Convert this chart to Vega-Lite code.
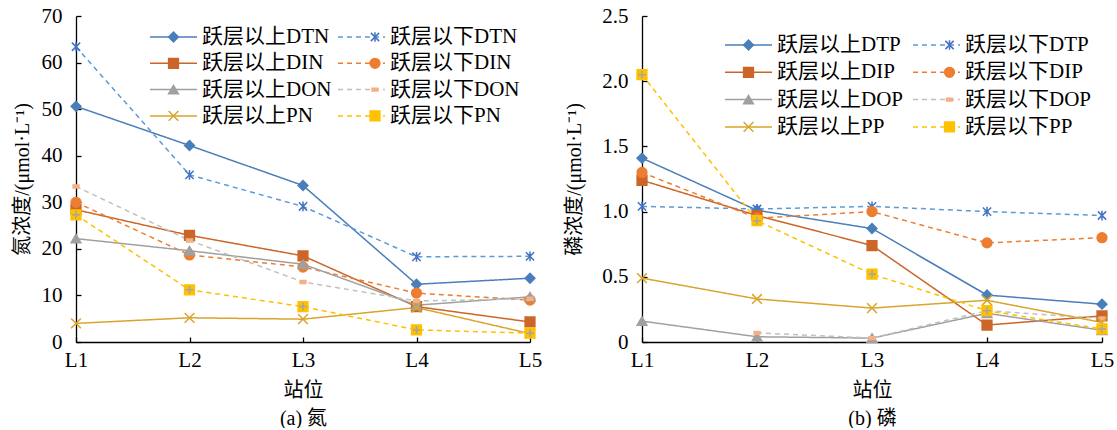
{
  "$schema": "https://vega.github.io/schema/vega-lite/v6.json",
  "background": "white",
  "padding": {"left": 12, "top": 5, "right": 0, "bottom": 0},
  "spacing": 22,
  "datasets": {
    "n": [
      {"station": "L1", "series": "跃层以上DTN", "value": 50.6},
      {"station": "L2", "series": "跃层以上DTN", "value": 42.2},
      {"station": "L3", "series": "跃层以上DTN", "value": 33.6},
      {"station": "L4", "series": "跃层以上DTN", "value": 12.4},
      {"station": "L5", "series": "跃层以上DTN", "value": 13.7},
      {"station": "L1", "series": "跃层以下DTN", "value": 63.4},
      {"station": "L2", "series": "跃层以下DTN", "value": 35.9},
      {"station": "L3", "series": "跃层以下DTN", "value": 29.1},
      {"station": "L4", "series": "跃层以下DTN", "value": 18.3},
      {"station": "L5", "series": "跃层以下DTN", "value": 18.4},
      {"station": "L1", "series": "跃层以上DIN", "value": 28.4},
      {"station": "L2", "series": "跃层以上DIN", "value": 22.9},
      {"station": "L3", "series": "跃层以上DIN", "value": 18.5},
      {"station": "L4", "series": "跃层以上DIN", "value": 7.6},
      {"station": "L5", "series": "跃层以上DIN", "value": 4.3},
      {"station": "L1", "series": "跃层以下DIN", "value": 30.0},
      {"station": "L2", "series": "跃层以下DIN", "value": 18.7},
      {"station": "L3", "series": "跃层以下DIN", "value": 16.1},
      {"station": "L4", "series": "跃层以下DIN", "value": 10.5},
      {"station": "L5", "series": "跃层以下DIN", "value": 9.0},
      {"station": "L1", "series": "跃层以上DON", "value": 22.2},
      {"station": "L2", "series": "跃层以上DON", "value": 19.6},
      {"station": "L3", "series": "跃层以上DON", "value": 16.7},
      {"station": "L4", "series": "跃层以上DON", "value": 7.9},
      {"station": "L5", "series": "跃层以上DON", "value": 9.7},
      {"station": "L1", "series": "跃层以下DON", "value": 33.4},
      {"station": "L2", "series": "跃层以下DON", "value": 21.8},
      {"station": "L3", "series": "跃层以下DON", "value": 12.9},
      {"station": "L4", "series": "跃层以下DON", "value": 8.8},
      {"station": "L5", "series": "跃层以下DON", "value": 9.3},
      {"station": "L1", "series": "跃层以上PN", "value": 4.0},
      {"station": "L2", "series": "跃层以上PN", "value": 5.2},
      {"station": "L3", "series": "跃层以上PN", "value": 4.9},
      {"station": "L4", "series": "跃层以上PN", "value": 7.4},
      {"station": "L5", "series": "跃层以上PN", "value": 1.8},
      {"station": "L1", "series": "跃层以下PN", "value": 27.3},
      {"station": "L2", "series": "跃层以下PN", "value": 11.2},
      {"station": "L3", "series": "跃层以下PN", "value": 7.6},
      {"station": "L4", "series": "跃层以下PN", "value": 2.6},
      {"station": "L5", "series": "跃层以下PN", "value": 1.9}
    ],
    "p": [
      {"station": "L1", "series": "跃层以上DTP", "value": 1.41},
      {"station": "L2", "series": "跃层以上DTP", "value": 1.01},
      {"station": "L3", "series": "跃层以上DTP", "value": 0.87},
      {"station": "L4", "series": "跃层以上DTP", "value": 0.36},
      {"station": "L5", "series": "跃层以上DTP", "value": 0.29},
      {"station": "L1", "series": "跃层以下DTP", "value": 1.04},
      {"station": "L2", "series": "跃层以下DTP", "value": 1.02},
      {"station": "L3", "series": "跃层以下DTP", "value": 1.04},
      {"station": "L4", "series": "跃层以下DTP", "value": 1.0},
      {"station": "L5", "series": "跃层以下DTP", "value": 0.97},
      {"station": "L1", "series": "跃层以上DIP", "value": 1.24},
      {"station": "L2", "series": "跃层以上DIP", "value": 0.97},
      {"station": "L3", "series": "跃层以上DIP", "value": 0.74},
      {"station": "L4", "series": "跃层以上DIP", "value": 0.13},
      {"station": "L5", "series": "跃层以上DIP", "value": 0.2},
      {"station": "L1", "series": "跃层以下DIP", "value": 1.3},
      {"station": "L2", "series": "跃层以下DIP", "value": 0.95},
      {"station": "L3", "series": "跃层以下DIP", "value": 1.0},
      {"station": "L4", "series": "跃层以下DIP", "value": 0.76},
      {"station": "L5", "series": "跃层以下DIP", "value": 0.8},
      {"station": "L1", "series": "跃层以上DOP", "value": 0.16},
      {"station": "L2", "series": "跃层以上DOP", "value": 0.04},
      {"station": "L3", "series": "跃层以上DOP", "value": 0.03},
      {"station": "L4", "series": "跃层以上DOP", "value": 0.22},
      {"station": "L5", "series": "跃层以上DOP", "value": 0.09},
      {"station": "L2", "series": "跃层以下DOP", "value": 0.07},
      {"station": "L3", "series": "跃层以下DOP", "value": 0.03},
      {"station": "L4", "series": "跃层以下DOP", "value": 0.24},
      {"station": "L5", "series": "跃层以下DOP", "value": 0.18},
      {"station": "L1", "series": "跃层以上PP", "value": 0.49},
      {"station": "L2", "series": "跃层以上PP", "value": 0.33},
      {"station": "L3", "series": "跃层以上PP", "value": 0.26},
      {"station": "L4", "series": "跃层以上PP", "value": 0.32},
      {"station": "L5", "series": "跃层以上PP", "value": 0.15},
      {"station": "L1", "series": "跃层以下PP", "value": 2.05},
      {"station": "L2", "series": "跃层以下PP", "value": 0.93},
      {"station": "L3", "series": "跃层以下PP", "value": 0.52},
      {"station": "L4", "series": "跃层以下PP", "value": 0.24},
      {"station": "L5", "series": "跃层以下PP", "value": 0.1}
    ]
  },
  "resolve": {
    "scale": {"color": "independent", "fill": "independent", "stroke": "independent", "shape": "independent", "strokeDash": "independent"},
    "legend": {"color": "independent", "fill": "independent", "stroke": "independent", "shape": "independent", "strokeDash": "independent"}
  },
  "hconcat": [
    {
      "width": 454,
      "height": 326,
      "data": {"name": "n"},
      "encoding": {
        "x": {"field": "station", "type": "ordinal", "scale": {"type": "point", "padding": 0},
          "axis": {"title": ["站位", "(a) 氮"], "labelAngle": 0, "titleLineHeight": 28, "titlePadding": 10, "labelPadding": 12}},
        "y": {"field": "value", "type": "quantitative", "scale": {"domain": [0, 70]},
          "axis": {"title": "氮浓度/(μmol·L⁻¹)", "values": [0, 10, 20, 30, 40, 50, 60, 70], "labelPadding": 19, "titlePadding": 9}}
      },
      "layer": [
        {
          "mark": {"type": "line", "strokeWidth": 1.5},
          "encoding": {
            "color": {"field": "series", "type": "nominal",
              "scale": {"domain": ["跃层以上DTN", "跃层以下DTN", "跃层以上DIN", "跃层以下DIN", "跃层以上DON", "跃层以下DON", "跃层以上PN", "跃层以下PN"], "range": ["#4a7ebb", "#5b9bd5", "#cc6528", "#ed7d31", "#a0a0a0", "#c0c0c0", "#d9a42c", "#ffc000"]},
              "legend": {"orient": "none", "legendX": 73, "legendY": 9, "direction": "horizontal", "columns": 2, "symbolType": "stroke", "symbolSize": 2209, "symbolStrokeWidth": 1.5, "labelFontSize": 21, "labelOffset": 4, "columnPadding": 5, "rowPadding": 2.3, "clipHeight": 24, "title": null, "padding": 0, "labelLimit": 0}},
            "strokeDash": {"field": "series", "type": "nominal",
              "scale": {"domain": ["跃层以上DTN", "跃层以下DTN", "跃层以上DIN", "跃层以下DIN", "跃层以上DON", "跃层以下DON", "跃层以上PN", "跃层以下PN"], "range": [[1, 0], [5, 4], [1, 0], [5, 4], [1, 0], [5, 4], [1, 0], [5, 4]]},
              "legend": {"orient": "none", "legendX": 73, "legendY": 9, "direction": "horizontal", "columns": 2, "symbolType": "stroke", "symbolSize": 2209, "symbolStrokeWidth": 1.5, "labelFontSize": 21, "labelOffset": 4, "columnPadding": 5, "rowPadding": 2.3, "clipHeight": 24, "title": null, "padding": 0, "labelLimit": 0}}
          }
        },
        {
          "transform": [{"filter": "datum.value >= 0"}],
          "mark": {"type": "point", "filled": true, "opacity": 1, "strokeWidth": 1.5, "size": 95},
          "encoding": {
            "fill": {"field": "series", "type": "nominal",
              "scale": {"domain": ["跃层以上DTN", "跃层以下DTN", "跃层以上DIN", "跃层以下DIN", "跃层以上DON", "跃层以下DON", "跃层以上PN", "跃层以下PN", "跃层以下PN"], "range": ["#4a7ebb", "transparent", "#cc6528", "#ed7d31", "#a0a0a0", "#f4b183", "transparent", "#ffc000"]},
              "legend": {"orient": "none", "legendX": 73, "legendY": 9, "direction": "horizontal", "columns": 2, "symbolSize": 95, "symbolStrokeWidth": 1.5, "symbolFillColor": "transparent", "symbolStrokeColor": "transparent", "symbolOffset": 14, "labelFontSize": 21, "labelExpr": "''", "labelOffset": 32, "columnPadding": 134.5, "rowPadding": 2.3, "clipHeight": 24, "title": null, "padding": 0, "labelLimit": 0}},
            "stroke": {"field": "series", "type": "nominal",
              "scale": {"domain": ["跃层以上DTN", "跃层以下DTN", "跃层以上DIN", "跃层以下DIN", "跃层以上DON", "跃层以下DON", "跃层以上PN", "跃层以下PN", "跃层以下PN"], "range": ["#4a7ebb", "#4472c4", "#cc6528", "#ed7d31", "#a0a0a0", "#f4b183", "#d9a42c", "#ffc000"]},
              "legend": {"orient": "none", "legendX": 73, "legendY": 9, "direction": "horizontal", "columns": 2, "symbolSize": 95, "symbolStrokeWidth": 1.5, "symbolFillColor": "transparent", "symbolStrokeColor": "transparent", "symbolOffset": 14, "labelFontSize": 21, "labelExpr": "''", "labelOffset": 32, "columnPadding": 134.5, "rowPadding": 2.3, "clipHeight": 24, "title": null, "padding": 0, "labelLimit": 0}},
            "shape": {"field": "series", "type": "nominal",
              "scale": {"domain": ["跃层以上DTN", "跃层以下DTN", "跃层以上DIN", "跃层以下DIN", "跃层以上DON", "跃层以下DON", "跃层以上PN", "跃层以下PN", "跃层以下PN"], "range": ["diamond", "M-0.85,-0.85L0.85,0.85M-0.85,0.85L0.85,-0.85M0,-1V1", "square", "circle", "triangle-up", "M-0.6,-0.3H0.6V0.3H-0.6Z", "M-1,-1L1,1M-1,1L1,-1", "square"]},
              "legend": {"orient": "none", "legendX": 73, "legendY": 9, "direction": "horizontal", "columns": 2, "symbolSize": 95, "symbolStrokeWidth": 1.5, "symbolFillColor": "transparent", "symbolStrokeColor": "transparent", "symbolOffset": 14, "labelFontSize": 21, "labelExpr": "''", "labelOffset": 32, "columnPadding": 134.5, "rowPadding": 2.3, "clipHeight": 24, "title": null, "padding": 0, "labelLimit": 0}}
          }
        },
        {
          "transform": [{"filter": "datum.series == '跃层以下PN'"}],
          "mark": {"type": "point", "shape": "M-0.8,0H0.8M0,-0.8V0.8", "filled": false, "stroke": "#a5a5a5", "strokeWidth": 1.5, "size": 95, "opacity": 1}
        }
      ]
    },
    {
      "width": 460,
      "height": 326,
      "data": {"name": "p"},
      "encoding": {
        "x": {"field": "station", "type": "ordinal", "scale": {"type": "point", "padding": 0},
          "axis": {"title": ["站位", "(b) 磷"], "labelAngle": 0, "titleLineHeight": 28, "titlePadding": 10, "labelPadding": 12}},
        "y": {"field": "value", "type": "quantitative", "scale": {"domain": [0, 2.5]},
          "axis": {"title": "磷浓度/(μmol·L⁻¹)", "values": [0, 0.5, 1, 1.5, 2, 2.5], "labelExpr": "datum.value == 0 ? '0' : format(datum.value, '.1f')", "labelPadding": 19, "titlePadding": 17}}
      },
      "layer": [
        {
          "mark": {"type": "line", "strokeWidth": 1.5},
          "encoding": {
            "color": {"field": "series", "type": "nominal",
              "scale": {"domain": ["跃层以上DTP", "跃层以下DTP", "跃层以上DIP", "跃层以下DIP", "跃层以上DOP", "跃层以下DOP", "跃层以上PP", "跃层以下PP"], "range": ["#4a7ebb", "#5b9bd5", "#cc6528", "#ed7d31", "#a0a0a0", "#c0c0c0", "#d9a42c", "#ffc000"]},
              "legend": {"orient": "none", "legendX": 82, "legendY": 17, "direction": "horizontal", "columns": 2, "symbolType": "stroke", "symbolSize": 2209, "symbolStrokeWidth": 1.5, "labelFontSize": 21, "labelOffset": 4, "columnPadding": 8, "rowPadding": 3.3, "clipHeight": 24, "title": null, "padding": 0, "labelLimit": 0}},
            "strokeDash": {"field": "series", "type": "nominal",
              "scale": {"domain": ["跃层以上DTP", "跃层以下DTP", "跃层以上DIP", "跃层以下DIP", "跃层以上DOP", "跃层以下DOP", "跃层以上PP", "跃层以下PP"], "range": [[1, 0], [5, 4], [1, 0], [5, 4], [1, 0], [5, 4], [1, 0], [5, 4]]},
              "legend": {"orient": "none", "legendX": 82, "legendY": 17, "direction": "horizontal", "columns": 2, "symbolType": "stroke", "symbolSize": 2209, "symbolStrokeWidth": 1.5, "labelFontSize": 21, "labelOffset": 4, "columnPadding": 8, "rowPadding": 3.3, "clipHeight": 24, "title": null, "padding": 0, "labelLimit": 0}}
          }
        },
        {
          "transform": [{"filter": "datum.value >= 0"}],
          "mark": {"type": "point", "filled": true, "opacity": 1, "strokeWidth": 1.5, "size": 95},
          "encoding": {
            "fill": {"field": "series", "type": "nominal",
              "scale": {"domain": ["跃层以上DTP", "跃层以下DTP", "跃层以上DIP", "跃层以下DIP", "跃层以上DOP", "跃层以下DOP", "跃层以上PP", "跃层以下PP", "跃层以下PP"], "range": ["#4a7ebb", "transparent", "#cc6528", "#ed7d31", "#a0a0a0", "#f4b183", "transparent", "#ffc000"]},
              "legend": {"orient": "none", "legendX": 82, "legendY": 17, "direction": "horizontal", "columns": 2, "symbolSize": 95, "symbolStrokeWidth": 1.5, "symbolFillColor": "transparent", "symbolStrokeColor": "transparent", "symbolOffset": 14, "labelFontSize": 21, "labelExpr": "''", "labelOffset": 32, "columnPadding": 134, "rowPadding": 3.3, "clipHeight": 24, "title": null, "padding": 0, "labelLimit": 0}},
            "stroke": {"field": "series", "type": "nominal",
              "scale": {"domain": ["跃层以上DTP", "跃层以下DTP", "跃层以上DIP", "跃层以下DIP", "跃层以上DOP", "跃层以下DOP", "跃层以上PP", "跃层以下PP", "跃层以下PP"], "range": ["#4a7ebb", "#4472c4", "#cc6528", "#ed7d31", "#a0a0a0", "#f4b183", "#d9a42c", "#ffc000"]},
              "legend": {"orient": "none", "legendX": 82, "legendY": 17, "direction": "horizontal", "columns": 2, "symbolSize": 95, "symbolStrokeWidth": 1.5, "symbolFillColor": "transparent", "symbolStrokeColor": "transparent", "symbolOffset": 14, "labelFontSize": 21, "labelExpr": "''", "labelOffset": 32, "columnPadding": 134, "rowPadding": 3.3, "clipHeight": 24, "title": null, "padding": 0, "labelLimit": 0}},
            "shape": {"field": "series", "type": "nominal",
              "scale": {"domain": ["跃层以上DTP", "跃层以下DTP", "跃层以上DIP", "跃层以下DIP", "跃层以上DOP", "跃层以下DOP", "跃层以上PP", "跃层以下PP", "跃层以下PP"], "range": ["diamond", "M-0.85,-0.85L0.85,0.85M-0.85,0.85L0.85,-0.85M0,-1V1", "square", "circle", "triangle-up", "M-0.6,-0.3H0.6V0.3H-0.6Z", "M-1,-1L1,1M-1,1L1,-1", "square"]},
              "legend": {"orient": "none", "legendX": 82, "legendY": 17, "direction": "horizontal", "columns": 2, "symbolSize": 95, "symbolStrokeWidth": 1.5, "symbolFillColor": "transparent", "symbolStrokeColor": "transparent", "symbolOffset": 14, "labelFontSize": 21, "labelExpr": "''", "labelOffset": 32, "columnPadding": 134, "rowPadding": 3.3, "clipHeight": 24, "title": null, "padding": 0, "labelLimit": 0}}
          }
        },
        {
          "transform": [{"filter": "datum.series == '跃层以下PP'"}],
          "mark": {"type": "point", "shape": "M-0.8,0H0.8M0,-0.8V0.8", "filled": false, "stroke": "#a5a5a5", "strokeWidth": 1.5, "size": 95, "opacity": 1}
        }
      ]
    }
  ],
  "config": {
    "view": {"stroke": null},
    "axis": {
      "grid": false,
      "domainColor": "#000000",
      "domainWidth": 1.3,
      "tickColor": "#000000",
      "tickWidth": 1.3,
      "tickSize": -5,
      "labelFont": "Liberation Serif, Noto Sans CJK SC",
      "labelFontSize": 21,
      "labelColor": "#000000",
      "titleFont": "Liberation Serif, Noto Sans CJK SC",
      "titleFontSize": 20,
      "titleFontWeight": "normal",
      "titleColor": "#000000"
    },
    "legend": {
      "labelFont": "Liberation Serif, Noto Sans CJK SC",
      "labelColor": "#000000"
    }
  }
}
